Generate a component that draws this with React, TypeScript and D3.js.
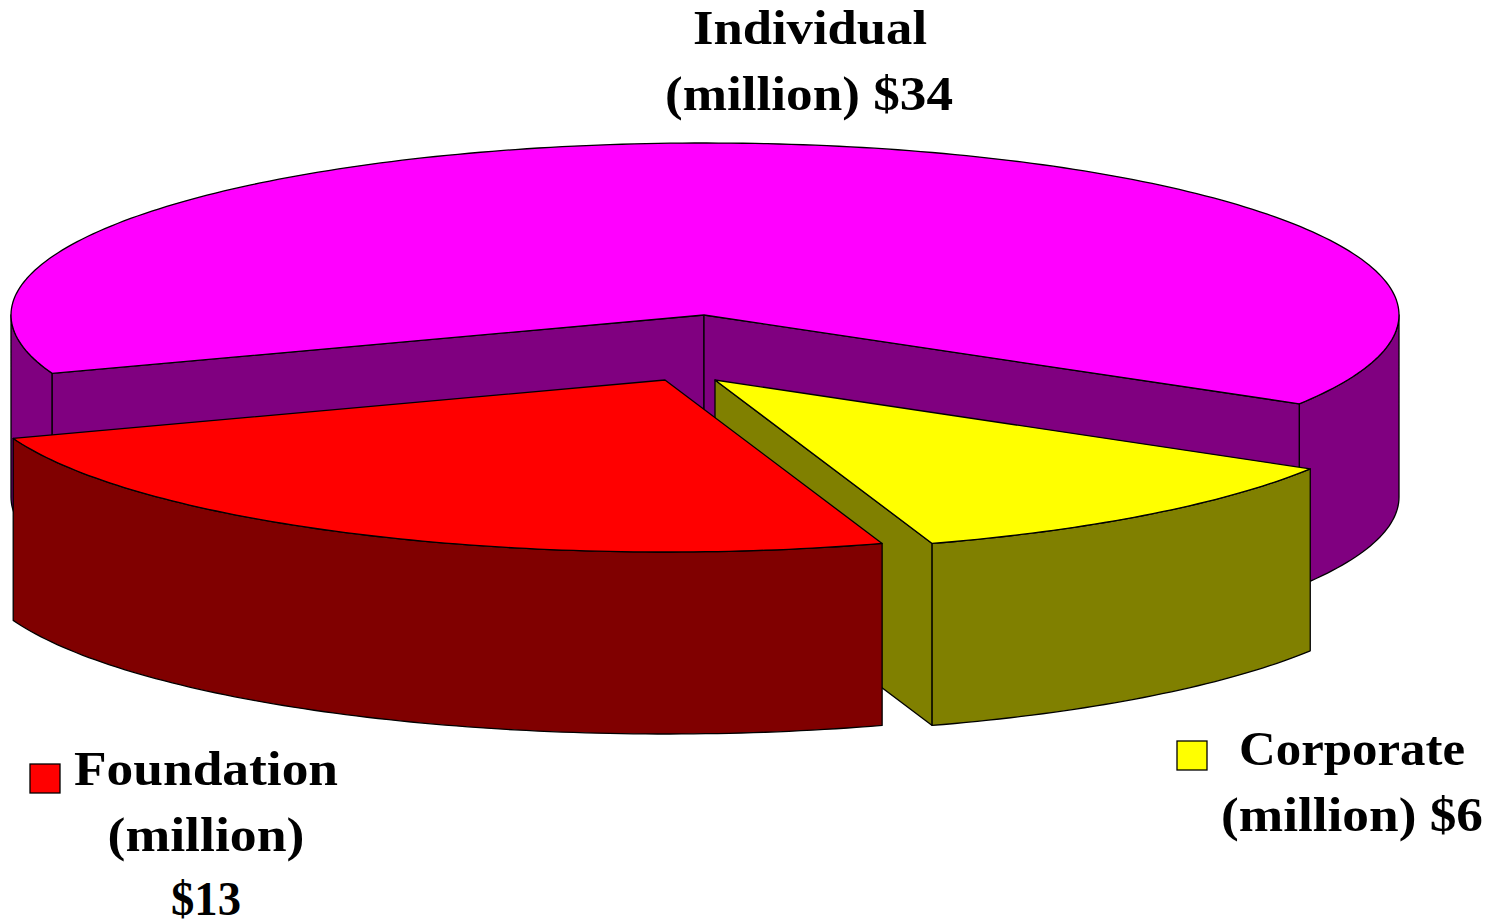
import React from "react";
import * as d3 from "d3";

const categories = ["Corporate", "Foundation", "Individual"];
const values = [6, 13, 34];
const labelLines = [
  "Individual",
  "(million) $34",
  "Foundation",
  "(million)",
  "$13",
  "Corporate",
  "(million) $6",
];
const topColors = ["#ffff00", "#ff0000", "#ff00ff"];
const sideColors = ["#808000", "#800000", "#800080"];
const explodeX = [11, -39, 0];
const explodeY = [65, 65, 0];

const W = 1499, H = 922;
const CX = 704, CY = 315, RIM_DX = 1, RX = 694, RY = 172, DEPTH = 182;
const START_DEG = 31.1;
const FONT = "'Liberation Serif', serif";

const rad = (d: number) => (d * Math.PI) / 180;
const line = d3.line<[number, number]>();

// d3.pie works clockwise from 12 o'clock; shift by 90deg to screen angles from +x
const arcs = d3
  .pie<number>()
  .sort(null)
  .startAngle(rad(START_DEG + 90))
  .endAngle(rad(START_DEG + 90 + 360))(values)
  .map((a, i) => ({
    i,
    start: a.startAngle - Math.PI / 2,
    end: a.endAngle - Math.PI / 2,
    ox: CX + explodeX[i],
    oy: CY + explodeY[i],
  }));

const pt = (a: { ox: number; oy: number }, t: number, dz = 0): [number, number] => [
  a.ox + RIM_DX + RX * Math.cos(t),
  a.oy + RY * Math.sin(t) + dz,
];
const rim = (a: any, t0: number, t1: number, dz = 0) => {
  const n = Math.max(2, Math.ceil(Math.abs(t1 - t0) / rad(1)));
  return d3.range(n + 1).map((k) => pt(a, t0 + ((t1 - t0) * k) / n, dz));
};
const top = (a: any) => line([[a.ox, a.oy], ...rim(a, a.start, a.end)])! + "Z";
const outer = (a: any, t0: number, t1: number) =>
  line([...rim(a, t0, t1), ...rim(a, t1, t0, DEPTH)])! + "Z";
const wall = (a: any, t: number) => {
  const p = pt(a, t);
  return line([[a.ox, a.oy], p, [p[0], p[1] + DEPTH], [a.ox, a.oy + DEPTH]])! + "Z";
};

const labelLayout = [
  { x: 810, y: 44, w: 234 },
  { x: 809, y: 110, w: 288 },
  { x: 206, y: 785, w: 264 },
  { x: 206, y: 851, w: 197 },
  { x: 206, y: 915, w: 70 },
  { x: 1352, y: 765, w: 226 },
  { x: 1352, y: 831, w: 262 },
];
const swatches = [
  { color: topColors[1], x: 30, y: 764 },
  { color: topColors[0], x: 1177, y: 741 },
];

const S = { stroke: "#000", strokeWidth: 1.3, strokeLinejoin: "round" as const };

export default function App() {
  const [yellow, red, magenta] = arcs;
  return (
    <svg
      width={W}
      height={H}
      viewBox={`0 0 ${W} ${H}`}
      style={{ position: "absolute", left: 0, top: 0, display: "block", background: "#fff" }}
    >
      {/* Individual: back slice */}
      <path d={outer(magenta, rad(360), magenta.end)} fill={sideColors[2]} {...S} />
      <path d={outer(magenta, magenta.start, rad(180))} fill={sideColors[2]} {...S} />
      <path d={wall(magenta, magenta.start)} fill={sideColors[2]} {...S} />
      <path d={wall(magenta, magenta.end)} fill={sideColors[2]} {...S} />
      <path d={top(magenta)} fill={topColors[2]} {...S} />
      {/* Corporate */}
      <path d={wall(yellow, yellow.end)} fill={sideColors[0]} {...S} />
      <path d={outer(yellow, yellow.start, yellow.end)} fill={sideColors[0]} {...S} />
      <path d={top(yellow)} fill={topColors[0]} {...S} />
      {/* Foundation */}
      <path d={outer(red, red.start, red.end)} fill={sideColors[1]} {...S} />
      <path d={top(red)} fill={topColors[1]} {...S} />
      {swatches.map((s) => (
        <rect key={s.x} x={s.x} y={s.y} width={30} height={29} fill={s.color} stroke="#000" strokeWidth={1.3} />
      ))}
      {labelLines.map((t, i) => (
        <text
          key={t}
          x={labelLayout[i].x}
          y={labelLayout[i].y}
          textAnchor="middle"
          textLength={labelLayout[i].w}
          lengthAdjust="spacingAndGlyphs"
          fontFamily={FONT}
          fontWeight="bold"
          fontSize={48}
          fill="#000"
        >
          {t}
        </text>
      ))}
    </svg>
  );
}
